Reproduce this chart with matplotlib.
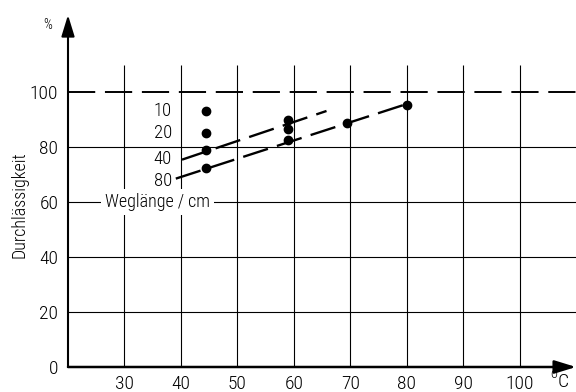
import matplotlib.pyplot as plt

plt.rcParams['font.family'] = ['Roboto Condensed', 'DejaVu Sans']
plt.rcParams['font.weight'] = 'light'

temp_ticks = [30, 40, 50, 60, 70, 80, 90, 100]
perm_ticks = [0, 20, 40, 60, 80, 100]

# measured points (temperature in C, permeability in %)
pt_temp = [44.5, 44.5, 44.5, 44.5, 59, 59, 59, 69.5, 80]
pt_perm = [93, 85, 79, 72.5, 90, 86.5, 82.5, 88.8, 95.3]

# dashed trend lines for path length 40 and 80 cm
line40_temp = [40.2, 65.8]
line40_perm = [75.4, 93.1]
line80_temp = [39.1, 79.5]
line80_perm = [68.5, 95.3]

path_labels = ['10', '20', '40', '80']
path_label_y = [93, 85, 75.7, 67.8]

fig = plt.figure(figsize=(5.76, 3.92), dpi=100)
ax = fig.add_axes([68 / 576, 25 / 392, 508 / 576, 352 / 392])
ax.set_xlim(20, 110)
ax.set_ylim(0, 128)
for s in ax.spines.values():
    s.set_visible(False)

# grid
ax.hlines([20, 40, 60, 80], 20, 110, color='black', lw=0.8, zorder=1)
ax.vlines(temp_ticks, 0, 110, color='black', lw=0.8, zorder=1)
ax.plot([20, 110], [100, 100], color='black', lw=1.4, dashes=(14, 5), zorder=2)

# axes with arrows
ax.annotate('', xy=(110, 0), xytext=(20, 0), annotation_clip=False,
            arrowprops=dict(arrowstyle='-|>,head_length=1.3,head_width=0.4',
                            lw=1.8, color='black', shrinkA=0, shrinkB=0))
ax.annotate('', xy=(20, 128), xytext=(20, 0), annotation_clip=False,
            arrowprops=dict(arrowstyle='-|>,head_length=1.3,head_width=0.4',
                            lw=1.5, color='black', shrinkA=0, shrinkB=0))

# data
ax.plot(line40_temp, line40_perm, color='black', lw=1.7, dashes=(11, 4), zorder=3)
ax.plot(line80_temp, line80_perm, color='black', lw=1.7, dashes=(11, 4), zorder=3)
ax.plot(pt_temp, pt_perm, 'o', color='black', ms=6, zorder=4)

for lab, y in zip(path_labels, path_label_y):
    ax.text(38.4, y, lab, ha='right', va='center', fontsize=13.5)
ax.text(35.9, 60, 'Weglänge / cm', ha='center', va='center', fontsize=13,
        bbox=dict(facecolor='white', edgecolor='none', pad=3), zorder=5)

ax.set_xticks(temp_ticks)
ax.set_yticks(perm_ticks)
ax.tick_params(length=0, labelsize=14)
ax.tick_params(axis='x', pad=6)
ax.tick_params(axis='y', pad=7)

fig.text(20 / 576, 1 - 205 / 392, 'Durchlässigkeit', rotation=90,
         ha='center', va='center', fontsize=13)
fig.text(48 / 576, 1 - 25 / 392, '%', ha='center', va='center', fontsize=10)
fig.text(554 / 576, 1 - 374 / 392, 'o', ha='center', va='center', fontsize=10)
fig.text(563 / 576, 1 - 382 / 392, 'C', ha='center', va='center', fontsize=14)

fig.savefig('out.png', dpi=100)
